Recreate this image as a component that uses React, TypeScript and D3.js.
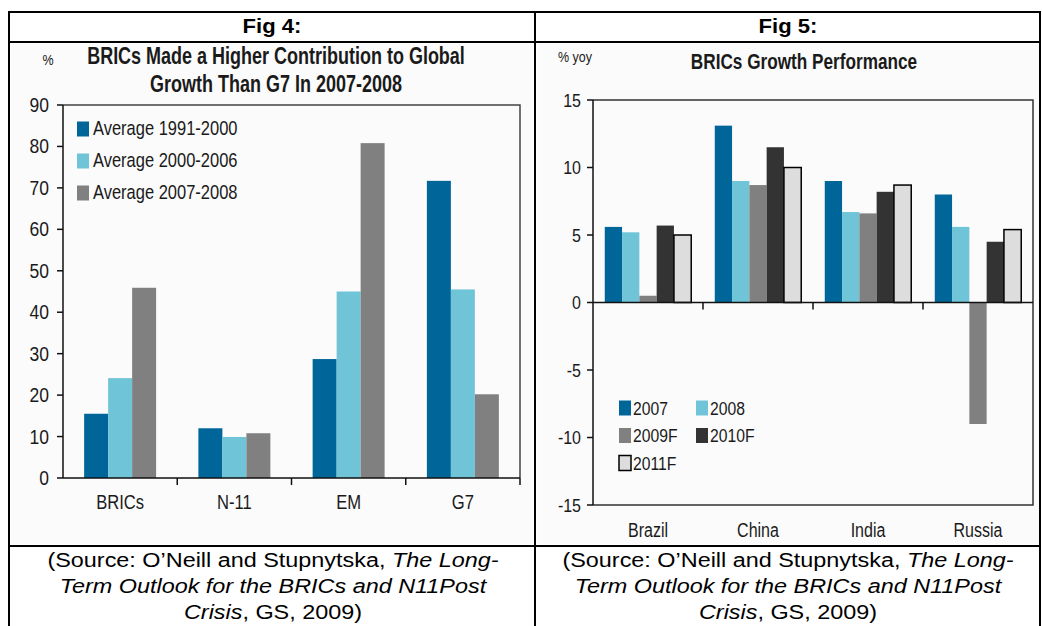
import React, { useRef, useEffect } from 'react';
import { select, scaleBand, scaleLinear } from 'd3';

const W = 1042;
const H = 626;

// Fig 4: contribution to global growth, %
const groups4 = ['BRICs', 'N-11', 'EM', 'G7'];
const series4 = ['Average 1991-2000', 'Average 2000-2006', 'Average 2007-2008'];
const avg9100 = [15.5, 12.0, 28.7, 71.7];
const avg0006 = [24.1, 9.9, 45.0, 45.5];
const avg0708 = [45.9, 10.8, 80.8, 20.2];
const ticks4 = [0, 10, 20, 30, 40, 50, 60, 70, 80, 90];

// Fig 5: BRICs growth, % yoy
const countries = ['Brazil', 'China', 'India', 'Russia'];
const years = ['2007', '2008', '2009F', '2010F', '2011F'];
const g2007 = [5.6, 13.1, 9.0, 8.0];
const g2008 = [5.2, 9.0, 6.7, 5.6];
const g2009 = [0.5, 8.7, 6.6, -9.0];
const g2010 = [5.7, 11.5, 8.2, 4.5];
const g2011 = [5.0, 10.0, 8.7, 5.4];
const ticks5 = [-15, -10, -5, 0, 5, 10, 15];

const colors4 = ['#006699', '#70c4d8', '#808080'];
const colors5 = ['#006699', '#70c4d8', '#808080', '#333333', '#dddddd'];

const FONT = "'Liberation Sans', Arial, sans-serif";
const INK = '#1a1a1a';

// text helper: charts are squeezed, so glyphs get a vertical stretch
const label = (g: any, x: number, y: number, s: string, size: number, anchor = 'middle', sy = 1.2, sx = 1) =>
  g
    .append('text')
    .attr('transform', `translate(${x},${y}) scale(${sx},${sy})`)
    .attr('font-size', size)
    .attr('font-family', FONT)
    .attr('text-anchor', anchor)
    .attr('dominant-baseline', 'central')
    .attr('fill', INK)
    .text(s);

const App: React.FC = () => {
  const svgRef = useRef<SVGSVGElement>(null);

  useEffect(() => {
    const svg = select(svgRef.current as any);
    svg.selectAll('*').remove();

    svg.append('rect').attr('width', W).attr('height', H).attr('fill', '#fff');
    // chart images have a faint off-white ground
    svg.append('rect').attr('x', 11).attr('y', 44).attr('width', 522).attr('height', 500).attr('fill', '#fbfbfb');
    svg.append('rect').attr('x', 537).attr('y', 44).attr('width', 502).attr('height', 500).attr('fill', '#fbfbfb');

    // ---------- Fig 4 ----------
    const c4 = svg.append('g');
    const x4 = scaleBand().domain(groups4).range([63, 520]).paddingInner(0.37).paddingOuter(0.185);
    const xs4 = scaleBand().domain(series4).range([0, x4.bandwidth()]);
    const y4 = scaleLinear().domain([0, 90]).range([478, 105]);
    const vals4 = [avg9100, avg0006, avg0708];

    series4.forEach((s, j) => {
      c4.selectAll(`.b4-${j}`)
        .data(groups4)
        .join('rect')
        .attr('class', `b4-${j}`)
        .attr('x', (d: string) => (x4(d) as number) + (xs4(s) as number))
        .attr('y', (_: string, i: number) => y4(vals4[j][i]))
        .attr('width', xs4.bandwidth())
        .attr('height', (_: string, i: number) => y4(0) - y4(vals4[j][i]))
        .attr('fill', colors4[j]);
    });

    // frame + axes
    c4.append('path').attr('d', `M63,${y4(90)}H520V${y4(0)}`).attr('fill', 'none').attr('stroke', '#444').attr('stroke-width', 1.5);
    c4.append('line').attr('x1', 63).attr('x2', 63).attr('y1', y4(90)).attr('y2', y4(0)).attr('stroke', '#111').attr('stroke-width', 1.5);
    c4.append('line').attr('x1', 63).attr('x2', 520).attr('y1', y4(0)).attr('y2', y4(0)).attr('stroke', '#111').attr('stroke-width', 1.5);
    ticks4.forEach(t => {
      c4.append('line').attr('x1', 57).attr('x2', 63).attr('y1', y4(t)).attr('y2', y4(t)).attr('stroke', '#111').attr('stroke-width', 1.5);
      label(c4, 49, y4(t), String(t), 17.5, 'end', 1.18);
    });
    const step4 = x4.step();
    groups4.forEach((g, i) => {
      const left = (x4(g) as number) - (step4 * x4.paddingInner()) / 2;
      if (i > 0) c4.append('line').attr('x1', left).attr('x2', left).attr('y1', y4(0)).attr('y2', y4(0) + 7).attr('stroke', '#111').attr('stroke-width', 1.5);
      label(c4, (x4(g) as number) + x4.bandwidth() / 2, 503, g, 16.6, 'middle', 1.18);
    });
    c4.append('line').attr('x1', 520).attr('x2', 520).attr('y1', y4(0)).attr('y2', y4(0) + 7).attr('stroke', '#111').attr('stroke-width', 1.5);

    // legend
    series4.forEach((s, j) => {
      const cy = 129 + j * 32;
      c4.append('rect').attr('x', 77).attr('y', cy - 7.5).attr('width', 12).attr('height', 15).attr('fill', colors4[j]);
      label(c4, 93, cy, s, 16.5, 'start', 1.18);
    });

    // titles
    label(c4, 48, 60, '%', 12.5, 'middle', 1.2);
    label(c4, 276, 56, 'BRICs Made a Higher Contribution to Global', 18, 'middle', 1.36).attr('font-weight', 'bold');
    label(c4, 276, 84, 'Growth Than G7 In 2007-2008', 18, 'middle', 1.36).attr('font-weight', 'bold');

    // ---------- Fig 5 ----------
    const c5 = svg.append('g');
    const x5 = scaleBand().domain(countries).range([593, 1033]).paddingInner(0.214).paddingOuter(0.107);
    const xs5 = scaleBand().domain(years).range([0, x5.bandwidth()]);
    const y5 = scaleLinear().domain([-15, 15]).range([505, 100]);
    const vals5 = [g2007, g2008, g2009, g2010, g2011];

    years.forEach((yr, j) => {
      c5.selectAll(`.b5-${j}`)
        .data(countries)
        .join('rect')
        .attr('class', `b5-${j}`)
        .attr('x', (d: string) => (x5(d) as number) + (xs5(yr) as number))
        .attr('y', (_: string, i: number) => y5(Math.max(0, vals5[j][i])))
        .attr('width', xs5.bandwidth())
        .attr('height', (_: string, i: number) => Math.abs(y5(vals5[j][i]) - y5(0)))
        .attr('fill', colors5[j])
        .attr('stroke', j === 4 ? '#000' : 'none')
        .attr('stroke-width', j === 4 ? 1.5 : 0);
    });

    c5.append('path').attr('d', `M593,${y5(15)}H1033V${y5(-15)}H593`).attr('fill', 'none').attr('stroke', '#333').attr('stroke-width', 1.5);
    c5.append('line').attr('x1', 593).attr('x2', 593).attr('y1', y5(15)).attr('y2', y5(-15)).attr('stroke', '#111').attr('stroke-width', 1.5);
    c5.append('line').attr('x1', 593).attr('x2', 1033).attr('y1', y5(0)).attr('y2', y5(0)).attr('stroke', '#111').attr('stroke-width', 1.5);
    ticks5.forEach(t => {
      c5.append('line').attr('x1', 587).attr('x2', 593).attr('y1', y5(t)).attr('y2', y5(t)).attr('stroke', '#111').attr('stroke-width', 1.5);
      label(c5, 581, y5(t), String(t), 16, 'end', 1.2);
    });
    const step5 = x5.step();
    countries.forEach((c, i) => {
      const left = (x5(c) as number) - (step5 * x5.paddingInner()) / 2;
      if (i > 0) c5.append('line').attr('x1', left).attr('x2', left).attr('y1', y5(0)).attr('y2', y5(0) + 7).attr('stroke', '#111').attr('stroke-width', 1.5);
      label(c5, (x5(c) as number) + x5.bandwidth() / 2, 530, c, 16, 'middle', 1.25);
    });

    // legend, two columns
    years.forEach((yr, j) => {
      const lx = j % 2 === 0 ? 619 : 696;
      const cy = 408 + Math.floor(j / 2) * 27.5;
      c5.append('rect')
        .attr('x', lx)
        .attr('y', cy - 7.5)
        .attr('width', 12)
        .attr('height', 15)
        .attr('fill', colors5[j])
        .attr('stroke', j === 4 ? '#000' : 'none')
        .attr('stroke-width', j === 4 ? 1.5 : 0);
      label(c5, lx + 14, cy, yr, 15.7, 'start', 1.2);
    });

    label(c5, 575, 57, '% yoy', 12.5, 'middle', 1.2);
    label(c5, 804, 61, 'BRICs Growth Performance', 17.2, 'middle', 1.24).attr('font-weight', 'bold');

    // ---------- table ----------
    const tb = svg.append('g').attr('stroke', '#000').attr('stroke-width', 2);
    tb.append('line').attr('x1', 9).attr('x2', 1040).attr('y1', 12).attr('y2', 12);
    tb.append('line').attr('x1', 9).attr('x2', 1040).attr('y1', 42).attr('y2', 42);
    tb.append('line').attr('x1', 9).attr('x2', 1040).attr('y1', 546).attr('y2', 546);
    tb.append('line').attr('x1', 9).attr('x2', 9).attr('y1', 11).attr('y2', H);
    tb.append('line').attr('x1', 535).attr('x2', 535).attr('y1', 11).attr('y2', H);
    tb.append('line').attr('x1', 1040).attr('x2', 1040).attr('y1', 11).attr('y2', H);

    const heads = [
      { x: 272, s: 'Fig 4:' },
      { x: 788, s: 'Fig 5:' },
    ];
    heads.forEach(h => {
      svg.append('text')
        .attr('transform', `translate(${h.x},33) scale(1.05,1)`)
        .attr('font-size', 21)
        .attr('font-weight', 'bold')
        .attr('font-family', FONT)
        .attr('text-anchor', 'middle')
        .attr('fill', '#000')
        .text(h.s);
    });

    // source lines: [text, italic] runs
    const source: [string, boolean][][] = [
      [['(Source: O\u2019Neill and Stupnytska, ', false], ['The Long-', true]],
      [['Term Outlook for the BRICs and N11Post', true]],
      [['Crisis', true], [', GS, 2009)', false]],
    ];
    [273, 788].forEach(cx => {
      source.forEach((runs, k) => {
        const t = svg.append('text')
          .attr('transform', `translate(${cx},${567 + k * 26}) scale(1.17,1.02)`)
          .attr('font-size', 20)
          .attr('font-family', FONT)
          .attr('text-anchor', 'middle')
          .attr('fill', '#000');
        runs.forEach(([s, it]) => {
          t.append('tspan').attr('font-style', it ? 'italic' : 'normal').text(s);
        });
      });
    });
  }, []);

  return (
    <svg
      ref={svgRef}
      width={W}
      height={H}
      style={{ position: 'absolute', left: 0, top: 0 }}
      role="img"
    ></svg>
  );
};

export default App;
